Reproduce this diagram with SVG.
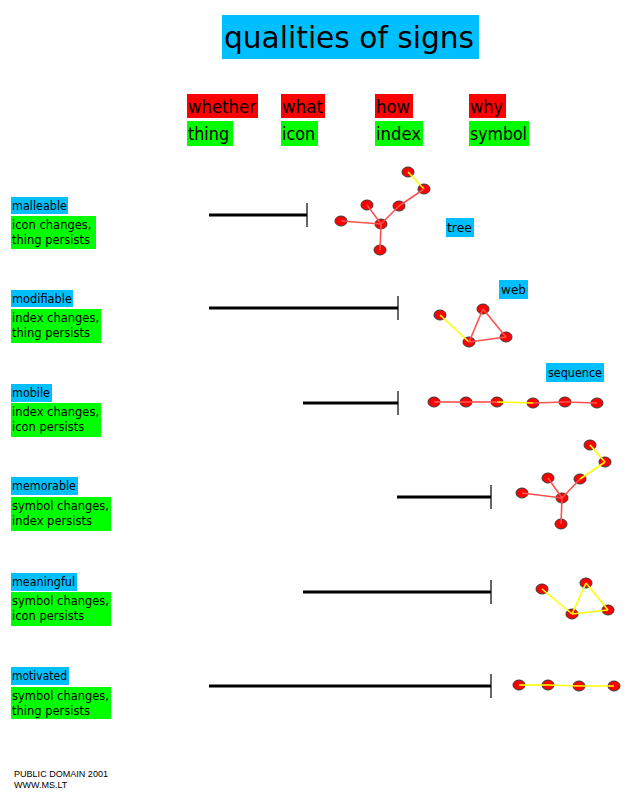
<svg xmlns="http://www.w3.org/2000/svg" width="641" height="800" viewBox="0 0 641 800">
<style>
text{font-family:"DejaVu Sans","Liberation Sans",sans-serif;fill:#000}
.blue{fill:#00bfff}
.red{fill:#ff0000}
.green{fill:#00ff00}
.title{font-size:31px}
.hd{font-size:17px}
.lb{font-size:11.5px}
.ft{font-family:"Liberation Sans",sans-serif;font-size:9px}
.bar{stroke:#000;stroke-width:3}
.tick{stroke:#000;stroke-width:1.2}
.n{fill:#ff0000;stroke:#3a3a3a;stroke-width:1}
.er{stroke:#ff5050;stroke-width:1.6;fill:none}
.ey{stroke:#ffff00;stroke-width:1.6;fill:none}
</style>
<rect width="641" height="800" fill="#fff"/>

<g id="title">
<rect class="blue" x="222" y="15" width="257" height="44"/>
<text class="title" x="224" y="48" textLength="250" lengthAdjust="spacingAndGlyphs">qualities of signs</text>
</g>

<g id="header-whether"><rect class="red" x="187" y="94" width="71" height="24"/><text class="hd" x="188" y="113" textLength="68" lengthAdjust="spacingAndGlyphs">whether</text></g>
<g id="header-thing"><rect class="green" x="187" y="121" width="46" height="25"/><text class="hd" x="188" y="140" textLength="41" lengthAdjust="spacingAndGlyphs">thing</text></g>
<g id="header-what"><rect class="red" x="281" y="94" width="44" height="24"/><text class="hd" x="282" y="113" textLength="41" lengthAdjust="spacingAndGlyphs">what</text></g>
<g id="header-icon"><rect class="green" x="281" y="121" width="37" height="25"/><text class="hd" x="282" y="140" textLength="33" lengthAdjust="spacingAndGlyphs">icon</text></g>
<g id="header-how"><rect class="red" x="375" y="94" width="38" height="24"/><text class="hd" x="376" y="113" textLength="34" lengthAdjust="spacingAndGlyphs">how</text></g>
<g id="header-index"><rect class="green" x="375" y="121" width="48" height="25"/><text class="hd" x="376" y="140" textLength="45" lengthAdjust="spacingAndGlyphs">index</text></g>
<g id="header-why"><rect class="red" x="469" y="94" width="37" height="24"/><text class="hd" x="470" y="113" textLength="33" lengthAdjust="spacingAndGlyphs">why</text></g>
<g id="header-symbol"><rect class="green" x="469" y="121" width="60" height="25"/><text class="hd" x="470" y="140" textLength="57" lengthAdjust="spacingAndGlyphs">symbol</text></g>

<g id="row1-label">
<rect class="blue" x="11" y="197" width="57" height="17"/><text class="lb" x="12" y="210" textLength="55" lengthAdjust="spacingAndGlyphs">malleable</text>
<rect class="green" x="11" y="216" width="85" height="33"/><text class="lb" x="12" y="229">icon changes,</text><text class="lb" x="12" y="244">thing persists</text>
</g>
<g id="row2-label">
<rect class="blue" x="11" y="290" width="62" height="17"/><text class="lb" x="12" y="303" textLength="60" lengthAdjust="spacingAndGlyphs">modifiable</text>
<rect class="green" x="11" y="309" width="90" height="34"/><text class="lb" x="12" y="322">index changes,</text><text class="lb" x="12" y="337">thing persists</text>
</g>
<g id="row3-label">
<rect class="blue" x="11" y="384" width="41" height="18"/><text class="lb" x="12" y="397" textLength="38" lengthAdjust="spacingAndGlyphs">mobile</text>
<rect class="green" x="11" y="403" width="90" height="34"/><text class="lb" x="12" y="416">index changes,</text><text class="lb" x="12" y="431">icon persists</text>
</g>
<g id="row4-label">
<rect class="blue" x="11" y="477" width="67" height="18"/><text class="lb" x="12" y="490" textLength="64" lengthAdjust="spacingAndGlyphs">memorable</text>
<rect class="green" x="11" y="497" width="100" height="34"/><text class="lb" x="12" y="510" textLength="97" lengthAdjust="spacingAndGlyphs">symbol changes,</text><text class="lb" x="12" y="525">index persists</text>
</g>
<g id="row5-label">
<rect class="blue" x="11" y="573" width="66" height="18"/><text class="lb" x="12" y="586" textLength="63" lengthAdjust="spacingAndGlyphs">meaningful</text>
<rect class="green" x="11" y="592" width="100" height="34"/><text class="lb" x="12" y="605" textLength="97" lengthAdjust="spacingAndGlyphs">symbol changes,</text><text class="lb" x="12" y="620">icon persists</text>
</g>
<g id="row6-label">
<rect class="blue" x="11" y="667" width="58" height="18"/><text class="lb" x="12" y="680" textLength="55" lengthAdjust="spacingAndGlyphs">motivated</text>
<rect class="green" x="11" y="687" width="100" height="32"/><text class="lb" x="12" y="700" textLength="97" lengthAdjust="spacingAndGlyphs">symbol changes,</text><text class="lb" x="12" y="715">thing persists</text>
</g>

<g id="bars">
<line class="bar" x1="209" y1="215" x2="307" y2="215"/><line class="tick" x1="307" y1="203" x2="307" y2="227"/>
<line class="bar" x1="209" y1="308" x2="398" y2="308"/><line class="tick" x1="398" y1="296" x2="398" y2="320"/>
<line class="bar" x1="303" y1="403" x2="398" y2="403"/><line class="tick" x1="398" y1="391" x2="398" y2="415"/>
<line class="bar" x1="397" y1="497" x2="491" y2="497"/><line class="tick" x1="491" y1="485" x2="491" y2="509"/>
<line class="bar" x1="303" y1="592" x2="491" y2="592"/><line class="tick" x1="491" y1="580" x2="491" y2="604"/>
<line class="bar" x1="209" y1="686" x2="491" y2="686"/><line class="tick" x1="491" y1="674" x2="491" y2="698"/>
</g>

<g id="tree1-nodes">
<ellipse class="n" cx="408" cy="172" rx="6" ry="5"/>
<ellipse class="n" cx="424" cy="189" rx="6" ry="5"/>
<ellipse class="n" cx="399" cy="206" rx="6" ry="5"/>
<ellipse class="n" cx="367" cy="205" rx="6" ry="5"/>
<ellipse class="n" cx="341" cy="221" rx="6" ry="5"/>
<ellipse class="n" cx="381" cy="224" rx="6" ry="5"/>
<ellipse class="n" cx="380" cy="250" rx="6" ry="5"/>
</g>
<g id="tree1-label"><rect class="blue" x="446" y="218" width="28" height="19"/><text class="lb" x="447" y="232" textLength="25" lengthAdjust="spacingAndGlyphs">tree</text></g>

<g id="web1-nodes">
<ellipse class="n" cx="440" cy="315" rx="6" ry="5"/>
<ellipse class="n" cx="483" cy="309" rx="6" ry="5"/>
<ellipse class="n" cx="506" cy="337" rx="6" ry="5"/>
<ellipse class="n" cx="469" cy="342" rx="6" ry="5"/>
</g>
<g id="web1-label"><rect class="blue" x="499" y="280" width="29" height="19"/><text class="lb" x="501" y="294" textLength="25" lengthAdjust="spacingAndGlyphs">web</text></g>

<g id="seq1-nodes">
<ellipse class="n" cx="434" cy="402" rx="6" ry="5"/>
<ellipse class="n" cx="466" cy="402" rx="6" ry="5"/>
<ellipse class="n" cx="497" cy="402" rx="6" ry="5"/>
<ellipse class="n" cx="533" cy="403" rx="6" ry="5"/>
<ellipse class="n" cx="565" cy="402" rx="6" ry="5"/>
<ellipse class="n" cx="597" cy="403" rx="6" ry="5"/>
</g>
<g id="seq1-label"><rect class="blue" x="546" y="363" width="58" height="19"/><text class="lb" x="548" y="377" textLength="54" lengthAdjust="spacingAndGlyphs">sequence</text></g>

<g id="tree2-nodes">
<ellipse class="n" cx="590" cy="445" rx="6" ry="5"/>
<ellipse class="n" cx="605" cy="462" rx="6" ry="5"/>
<ellipse class="n" cx="580" cy="479" rx="6" ry="5"/>
<ellipse class="n" cx="548" cy="478" rx="6" ry="5"/>
<ellipse class="n" cx="522" cy="493" rx="6" ry="5"/>
<ellipse class="n" cx="562" cy="498" rx="6" ry="5"/>
<ellipse class="n" cx="561" cy="524" rx="6" ry="5"/>
</g>

<g id="web2-nodes">
<ellipse class="n" cx="542" cy="589" rx="6" ry="5"/>
<ellipse class="n" cx="586" cy="583" rx="6" ry="5"/>
<ellipse class="n" cx="608" cy="610" rx="6" ry="5"/>
<ellipse class="n" cx="572" cy="614" rx="6" ry="5"/>
</g>

<g id="seq2-nodes">
<ellipse class="n" cx="519" cy="685" rx="6" ry="5"/>
<ellipse class="n" cx="548" cy="685" rx="6" ry="5"/>
<ellipse class="n" cx="579" cy="686" rx="6" ry="5"/>
<ellipse class="n" cx="614" cy="686" rx="6" ry="5"/>
</g>

<g id="connectors">
<line class="ey" x1="408" y1="172" x2="424" y2="189"/>
<line class="er" x1="424" y1="189" x2="399" y2="206"/>
<line class="er" x1="399" y1="206" x2="381" y2="224"/>
<line class="er" x1="367" y1="205" x2="381" y2="224"/>
<line class="er" x1="341" y1="221" x2="381" y2="224"/>
<line class="er" x1="381" y1="224" x2="380" y2="250"/>

<line class="ey" x1="440" y1="315" x2="469" y2="342"/>
<line class="er" x1="469" y1="342" x2="483" y2="309"/>
<line class="er" x1="483" y1="309" x2="506" y2="337"/>
<line class="er" x1="506" y1="337" x2="469" y2="342"/>

<line class="er" x1="434" y1="402" x2="466" y2="402"/>
<line class="er" x1="466" y1="402" x2="497" y2="402"/>
<line class="ey" x1="497" y1="402" x2="533" y2="403"/>
<line class="er" x1="533" y1="403" x2="565" y2="402"/>
<line class="er" x1="565" y1="402" x2="597" y2="403"/>

<line class="ey" x1="590" y1="445" x2="605" y2="462"/>
<line class="ey" x1="605" y1="462" x2="580" y2="479"/>
<line class="er" x1="580" y1="479" x2="562" y2="498"/>
<line class="er" x1="548" y1="478" x2="562" y2="498"/>
<line class="er" x1="522" y1="493" x2="562" y2="498"/>
<line class="er" x1="562" y1="498" x2="561" y2="524"/>

<line class="ey" x1="542" y1="589" x2="572" y2="614"/>
<line class="ey" x1="572" y1="614" x2="586" y2="583"/>
<line class="ey" x1="586" y1="583" x2="608" y2="610"/>
<line class="ey" x1="608" y1="610" x2="572" y2="614"/>

<line class="ey" x1="519" y1="685" x2="548" y2="685"/>
<line class="ey" x1="548" y1="685" x2="579" y2="686"/>
<line class="ey" x1="579" y1="686" x2="614" y2="686"/>
</g>

<g id="footer">
<text class="ft" x="14" y="777" textLength="94" lengthAdjust="spacingAndGlyphs">PUBLIC DOMAIN 2001</text>
<text class="ft" x="14" y="788">WWW.MS.LT</text>
</g>
</svg>
